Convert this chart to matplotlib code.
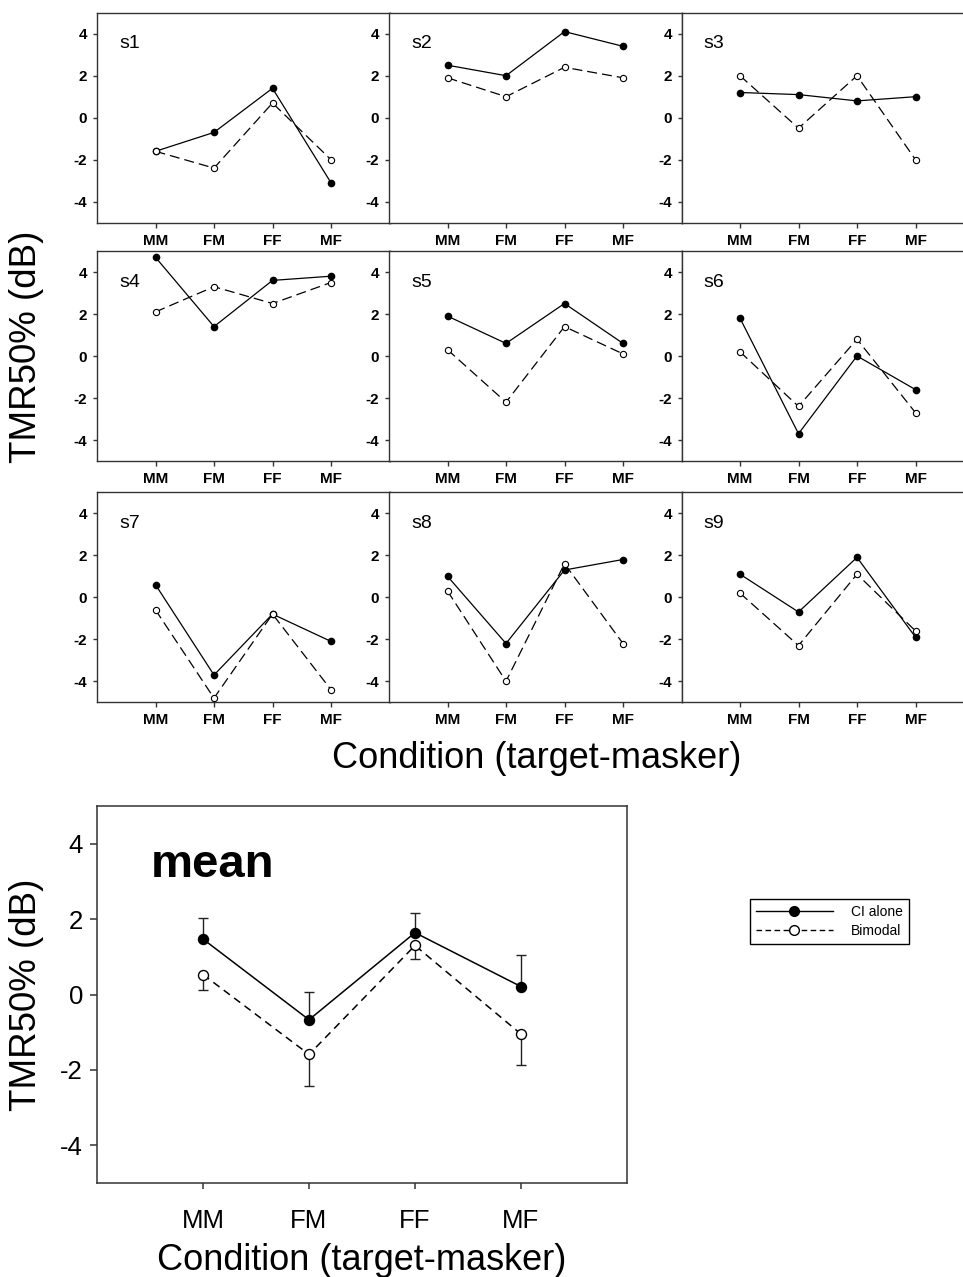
import numpy as np
import matplotlib
matplotlib.use("Agg")
import matplotlib.pyplot as plt
from matplotlib.lines import Line2D

plt.rcParams['font.family'] = ['Liberation Sans', 'DejaVu Sans']

conditions = ['MM', 'FM', 'FF', 'MF']
subjects = ['s1', 's2', 's3', 's4', 's5', 's6', 's7', 's8', 's9']

# TMR50% per subject, order MM, FM, FF, MF
ci_alone = [
    [-1.6, -0.7, 1.4, -3.1],
    [2.5, 2.0, 4.1, 3.4],
    [1.2, 1.1, 0.8, 1.0],
    [4.7, 1.4, 3.6, 3.8],
    [1.9, 0.6, 2.5, 0.6],
    [1.8, -3.7, 0.0, -1.6],
    [0.6, -3.7, -0.8, -2.1],
    [1.0, -2.2, 1.3, 1.8],
    [1.1, -0.7, 1.9, -1.9],
]
bimodal = [
    [-1.6, -2.4, 0.7, -2.0],
    [1.9, 1.0, 2.4, 1.9],
    [2.0, -0.5, 2.0, -2.0],
    [2.1, 3.3, 2.5, 3.5],
    [0.3, -2.2, 1.4, 0.1],
    [0.2, -2.4, 0.8, -2.7],
    [-0.6, -4.8, -0.8, -4.4],
    [0.3, -4.0, 1.6, -2.2],
    [0.2, -2.3, 1.1, -1.6],
]

# group means and error bars (CI alone up, bimodal down)
ci_mean = [1.47, -0.67, 1.64, 0.21]
ci_err = [0.55, 0.74, 0.53, 0.84]
bi_mean = [0.53, -1.59, 1.30, -1.05]
bi_err = [0.42, 0.83, 0.35, 0.82]

W, H = 963, 1277
fig = plt.figure(figsize=(W / 100, H / 100), dpi=100)

spine_col = '#333333'
xpos = np.arange(1, len(conditions) + 1)


def style_axes(ax, tick_size, weight, ylen, xlen, xpad, ypad, lw):
    ax.set_xlim(0, 5)
    ax.set_ylim(-5, 5)
    ax.set_xticks(xpos)
    ax.set_xticklabels(conditions, fontsize=tick_size, fontweight=weight)
    ax.set_yticks([-4, -2, 0, 2, 4])
    ax.set_yticklabels(['-4', '-2', '0', '2', '4'], fontsize=tick_size, fontweight=weight)
    ax.tick_params(axis='x', direction='out', length=xlen, width=lw, color=spine_col, pad=xpad)
    ax.tick_params(axis='y', direction='out', length=ylen, width=lw, color=spine_col, pad=ypad)
    for s in ax.spines.values():
        s.set_color(spine_col)
        s.set_linewidth(lw)


# 3x3 grid of subjects
col_left = [97, 389, 681.5]
row_bottom = [222.7, 461, 702.3]
pw, ph = 292.5, 210
for i, name in enumerate(subjects):
    r, c = divmod(i, 3)
    ax = fig.add_axes([col_left[c] / W, 1 - row_bottom[r] / H, pw / W, ph / H])
    ax.plot(xpos, ci_alone[i], '-', color='black', lw=0.9,
            marker='o', ms=4.5, mfc='black', mec='black', zorder=3)
    ax.plot(xpos, bimodal[i], color='black', lw=0.9, dashes=(8, 4),
            marker='o', ms=4.5, mfc='white', mec='black', mew=0.8, zorder=4)
    ax.text(0.075, 0.83, name, transform=ax.transAxes, fontsize=14)
    style_axes(ax, 11, 'bold', 3, 3.5, 4.5, 4, 1.0)

fig.text(27 / W, 1 - 347 / H, 'TMR50% (dB)', rotation=90, ha='center', va='center', fontsize=26.5)
fig.text(537 / W, 1 - 768 / H, 'Condition (target-masker)', ha='center', va='baseline', fontsize=26)

# mean panel
ax = fig.add_axes([97 / W, 1 - 1183 / H, 530 / W, 377 / H])
ax.errorbar(xpos, ci_mean, yerr=[np.zeros(4), ci_err], fmt='-o', color='black', lw=1.1,
            ms=7.2, mfc='black', mec='black', ecolor='#222222', elinewidth=1.0,
            capsize=3.3, capthick=1.0, zorder=3)
ax.errorbar(xpos, bi_mean, yerr=[bi_err, np.zeros(4)], fmt='o', color='black', ls=(0, (5, 3.5)),
            lw=1.1, ms=7.2, mfc='white', mec='black', mew=1.0, ecolor='#222222',
            elinewidth=1.0, capsize=3.3, capthick=1.0, zorder=4)
ax.text((151 - 97) / 530, 1 - (876.7 - 806) / 377, 'mean', transform=ax.transAxes,
        fontsize=34, fontweight='bold', va='baseline')
style_axes(ax, 18.5, 'normal', 5, 4.5, 14, 5, 1.1)

fig.text(27 / W, 1 - 995 / H, 'TMR50% (dB)', rotation=90, ha='center', va='center', fontsize=26.5)
fig.text(362 / W, 1 - 1270 / H, 'Condition (target-masker)', ha='center', va='baseline', fontsize=26)

handles = [
    Line2D([], [], color='black', lw=1.0, marker='o', ms=7, mfc='black', mec='black'),
    Line2D([], [], color='black', lw=1.0, ls=(0, (4, 2.5)), marker='o', ms=7,
           mfc='white', mec='black'),
]
leg = fig.legend(handles, ['CI alone', 'Bimodal'], loc='upper left',
                 bbox_to_anchor=(750 / W, 1 - 899 / H), borderaxespad=0,
                 fontsize=10, handlelength=5.5, handletextpad=1.3, labelspacing=0.35,
                 borderpad=0.45, fancybox=False, framealpha=1, edgecolor='black')
leg.get_frame().set_linewidth(1.0)

fig.savefig('out.png', dpi=100)
